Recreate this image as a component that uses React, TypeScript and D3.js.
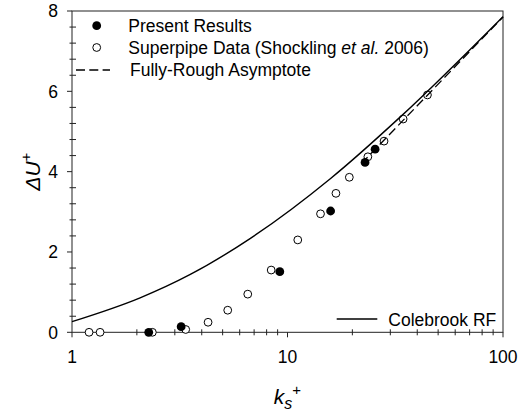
import React from "react";
import * as d3 from "d3";

// Data
const presentKs = [2.27, 3.21, 9.21, 15.85, 22.9, 25.5];
const presentDU = [0.0, 0.14, 1.51, 3.02, 4.23, 4.56];

const superpipeKs = [1.2, 1.35, 2.36, 3.37, 4.28, 5.28, 6.54, 8.4, 11.16, 14.23, 16.78, 19.36, 23.6, 28.05, 34.4, 44.6];
const superpipeDU = [0.0, 0.0, 0.0, 0.07, 0.25, 0.55, 0.95, 1.55, 2.3, 2.95, 3.46, 3.86, 4.37, 4.76, 5.31, 5.91];

const colebrookKs = [1, 2.07, 3.54, 6.73, 15.85, 33.5, 100];
const colebrookDU = [0.264, 0.857, 1.44, 2.34, 3.83, 5.37, 7.86];

const asymptoteKs = [22, 100];
const asymptoteDU = [4.2, 7.85];

const xTicks = [1, 10, 100];
const yTicks = [0, 2, 4, 6, 8];

const W = 518;
const H = 414;
const left = 72;
const right = 503;
const top = 11;
const bottom = 332.3;
const FONT = "'Liberation Sans', Arial, Helvetica, sans-serif";
const AX = "#222";

export default function App() {
  const x = d3.scaleLog().domain([1, 100]).range([left, right]);
  const y = d3.scaleLinear().domain([0, 8]).range([bottom, top]);

  const line = d3
    .line<[number, number]>()
    .x((d) => x(d[0]))
    .y((d) => y(d[1]))
    .curve(d3.curveMonotoneX);

  const colebrook: [number, number][] = colebrookKs.map((k, i) => [k, colebrookDU[i]]);
  const asym: [number, number][] = asymptoteKs.map((k, i) => [k, asymptoteDU[i]]);

  const xMinor: number[] = [];
  for (const dec of [1, 10]) for (let m = 2; m <= 9; m++) xMinor.push(dec * m);
  const yMinor: number[] = [];
  for (let v = 0.4; v < 8; v += 0.4) {
    const r = Math.round(v * 10) / 10;
    if (Math.abs(r / 2 - Math.round(r / 2)) > 1e-6) yMinor.push(r);
  }

  const fs = 17.5;
  const rMark = 4.4;

  return (
    <svg
      width={W}
      height={H}
      style={{ position: "absolute", left: 0, top: 0, background: "#fff" }}
      fontFamily={FONT}
    >
      <rect x={0} y={0} width={W} height={H} fill="#fff" />
      {/* frame */}
      <rect x={left} y={top} width={right - left} height={bottom - top} fill="none" stroke={AX} strokeWidth={1} />

      {/* x ticks */}
      {xMinor.map((v) => (
        <line key={"xm" + v} x1={x(v)} x2={x(v)} y1={bottom - 3} y2={bottom + 3} stroke={AX} />
      ))}
      {xTicks.map((v) => (
        <g key={"xt" + v}>
          <line x1={x(v)} x2={x(v)} y1={bottom} y2={bottom + 5} stroke={AX} />
          <text x={x(v)} y={363} textAnchor="middle" fontSize={fs} fill="#000">
            {v}
          </text>
        </g>
      ))}

      {/* y ticks */}
      {yMinor.map((v) => (
        <line key={"ym" + v} x1={left - 2.5} x2={left + 4} y1={y(v)} y2={y(v)} stroke={AX} />
      ))}
      {yTicks.map((v) => (
        <g key={"yt" + v}>
          <line x1={left - 5} x2={left} y1={y(v)} y2={y(v)} stroke={AX} />
          <text x={58} y={y(v)} dy="0.36em" textAnchor="end" fontSize={fs} fill="#000">
            {v}
          </text>
        </g>
      ))}

      {/* markers */}
      {superpipeKs.map((k, i) => (
        <circle key={"sp" + i} cx={x(k)} cy={y(superpipeDU[i])} r={rMark - 0.5} fill="#fff" stroke="#000" strokeWidth={1} />
      ))}
      {presentKs.map((k, i) => (
        <circle key={"pr" + i} cx={x(k)} cy={y(presentDU[i])} r={rMark} fill="#000" />
      ))}

      {/* lines */}
      <path d={line(colebrook) || ""} fill="none" stroke="#000" strokeWidth={1.4} />
      <path d={line(asym) || ""} fill="none" stroke="#000" strokeWidth={1.3} strokeDasharray="9,4.3" />

      {/* legend top-left */}
      <circle cx={96.7} cy={25.7} r={rMark} fill="#000" />
      <text x={128.3} y={31.5} fontSize={fs} fill="#000">Present Results</text>
      <circle cx={96.7} cy={47.5} r={rMark - 0.5} fill="#fff" stroke="#000" />
      <text x={128.3} y={53.6} fontSize={fs} fill="#000">
        Superpipe Data (Shockling <tspan fontStyle="italic">et al.</tspan> 2006)
      </text>
      <line x1={76} x2={110} y1={70} y2={70} stroke="#000" strokeWidth={1.3} strokeDasharray="9,4.3" />
      <text x={130} y={76.2} fontSize={fs} fill="#000">Fully-Rough Asymptote</text>

      {/* legend bottom-right */}
      <line x1={336.7} x2={377.3} y1={319} y2={319} stroke="#000" strokeWidth={1.4} />
      <text x={388.3} y={325.8} fontSize={fs} fill="#000">Colebrook RF</text>

      {/* axis titles */}
      <text x={287.5} y={404} textAnchor="middle" fontSize={21} fill="#000">
        <tspan fontStyle="italic">k</tspan>
        <tspan fontStyle="italic" fontSize={16} dy={5}>s</tspan>
        <tspan fontSize={15} dy={-14}>+</tspan>
      </text>
      <text
        transform={`translate(40,${(top + bottom) / 2}) rotate(-90)`}
        textAnchor="middle"
        fontSize={21}
        fill="#000"
      >
        <tspan fontStyle="italic">ΔU</tspan>
        <tspan fontSize={15} dy={-9}>+</tspan>
      </text>
    </svg>
  );
}
